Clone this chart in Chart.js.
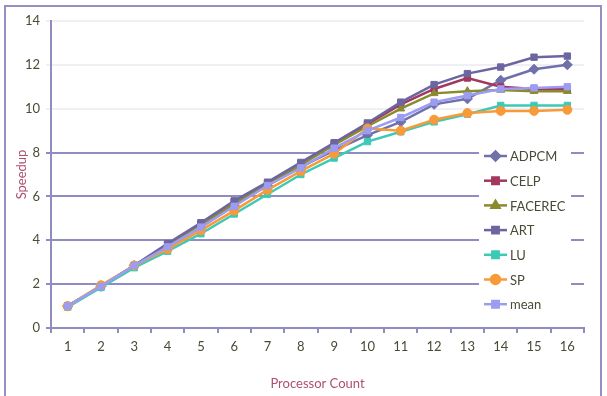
<!DOCTYPE html>
<html lang="en">
<head>
<meta charset="UTF-8">
<script src="https://cdn.jsdelivr.net/npm/chart.js"></script>
<title>Speedup</title>
<style>
  body { margin: 0; background: #fff; }
  #wrap { width: 607px; height: 396px; position: relative; }
</style>
</head>
<body>
<div id="wrap"><canvas id="c" width="607" height="396"></canvas></div>
<script>
  const processors = ['1','2','3','4','5','6','7','8','9','10','11','12','13','14','15','16']
  const adpcm   = [1.0, 1.9, 2.85, 3.7, 4.6, 5.6, 6.5, 7.35, 8.1, 8.8, 9.4, 10.2, 10.45, 11.3, 11.8, 12.0]
  const celp    = [1.0, 1.9, 2.85, 3.8, 4.75, 5.75, 6.6, 7.5, 8.4, 9.3, 10.2, 10.9, 11.4, 11.0, 10.9, 10.9]
  const facerec = [1.0, 1.9, 2.85, 3.75, 4.7, 5.7, 6.55, 7.45, 8.35, 9.2, 10.0, 10.7, 10.8, 10.85, 10.8, 10.8]
  const art     = [1.0, 1.9, 2.85, 3.85, 4.8, 5.8, 6.65, 7.55, 8.45, 9.35, 10.3, 11.1, 11.6, 11.9, 12.35, 12.4]
  const lu      = [0.95, 1.85, 2.75, 3.5, 4.3, 5.2, 6.1, 7.0, 7.75, 8.5, 8.95, 9.4, 9.75, 10.15, 10.15, 10.15]
  const sp      = [1.0, 1.95, 2.85, 3.6, 4.45, 5.35, 6.3, 7.15, 7.95, 9.1, 9.0, 9.5, 9.8, 9.9, 9.9, 9.95]
  const mean    = [1.0, 1.9, 2.85, 3.7, 4.6, 5.55, 6.5, 7.3, 8.2, 9.0, 9.6, 10.3, 10.6, 10.9, 10.95, 11.0]

  const seriesNames = ['ADPCM', 'CELP', 'FACEREC', 'ART', 'LU', 'SP', 'mean']
  const seriesData = [adpcm, celp, facerec, art, lu, sp, mean]
  const colors = ['#7070aa', '#a3385f', '#8a8a2e', '#6c66a0', '#3ccab6', '#f89a38', '#9c9cf2']
  const shapes = ['rectRot', 'rect', 'triangle', 'rect', 'rect', 'circle', 'rect']

  const datasets = seriesNames.map((name, i) => ({
    label: name,
    data: seriesData[i],
    borderColor: colors[i],
    backgroundColor: colors[i],
    borderWidth: 2.5,
    pointStyle: shapes[i],
    pointRadius: shapes[i] === 'rectRot' ? 5 : 4.5,
    pointBorderWidth: 1,
    pointBorderColor: colors[i],
    pointBackgroundColor: colors[i],
    tension: 0,
    order: seriesNames.length - i
  }))

  // frame round the whole chart
  const frame = {
    id: 'frame',
    beforeDraw: (chart) => {
      const ctx = chart.ctx
      ctx.save()
      ctx.fillStyle = '#fff'
      ctx.fillRect(0, 0, chart.width, chart.height)
      ctx.strokeStyle = '#9490c4'
      ctx.lineWidth = 2
      ctx.strokeRect(5, 6, 596, 400)
      ctx.restore()
    }
  }

  // legend sits inside the plot on the right
  const insideLegend = {
    id: 'insideLegend',
    afterDraw: (chart) => {
      const ctx = chart.ctx
      ctx.save()
      ctx.fillStyle = '#fff'
      ctx.fillRect(479, 143, 92, 174)
      ctx.font = '13px Lato, "Open Sans", sans-serif'
      ctx.textBaseline = 'middle'
      seriesNames.forEach((name, i) => {
        const y = 156 + i * 24.7
        ctx.strokeStyle = colors[i]
        ctx.lineWidth = 2.5
        ctx.beginPath()
        ctx.moveTo(484, y)
        ctx.lineTo(507, y)
        ctx.stroke()
        ctx.fillStyle = colors[i]
        Chart.helpers.drawPoint(ctx, { pointStyle: shapes[i], radius: 4.5, borderWidth: 1 }, 495.5, y)
        ctx.fill()
        ctx.fillStyle = '#4a4a36'
        ctx.fillText(name, 510, y + 1)
      })
      ctx.restore()
    }
  }

  new Chart(document.getElementById('c'), {
    type: 'line',
    data: { labels: processors, datasets },
    plugins: [frame, insideLegend],
    options: {
      responsive: false,
      animation: false,
      layout: { padding: { left: 14, top: 21, right: 23, bottom: 0 } },
      plugins: { legend: { display: false }, tooltip: { enabled: false } },
      scales: {
        x: {
          offset: true,
          grid: { offset: true, drawOnChartArea: false, color: '#8f8cc2', lineWidth: 2, tickLength: 5 },
          border: { color: '#8f8cc2', width: 2 },
          ticks: { color: '#4a4a36', font: { family: 'Lato', size: 13 }, padding: 6 },
          title: { display: true, text: 'Processor Count', color: '#b0506e', font: { family: 'Lato', size: 13 }, padding: { top: 12 } },
          afterFit: (s) => { s.height = 68 }
        },
        y: {
          min: 0, max: 14,
          ticks: { stepSize: 2, color: '#4a4a36', font: { family: 'Lato', size: 13 }, padding: 6 },
          grid: {
            color: (c) => c.tick && c.tick.value >= 10 ? '#efeff4' : '#8f8cc2',
            lineWidth: 2,
            tickLength: 5
          },
          border: { color: '#8f8cc2', width: 2 },
          title: { display: true, text: 'Speedup', color: '#b0506e', font: { family: 'Lato', size: 13 }, padding: 0 },
          afterFit: (s) => { s.width = 37 }
        }
      }
    }
  })
</script>
</body>
</html>
